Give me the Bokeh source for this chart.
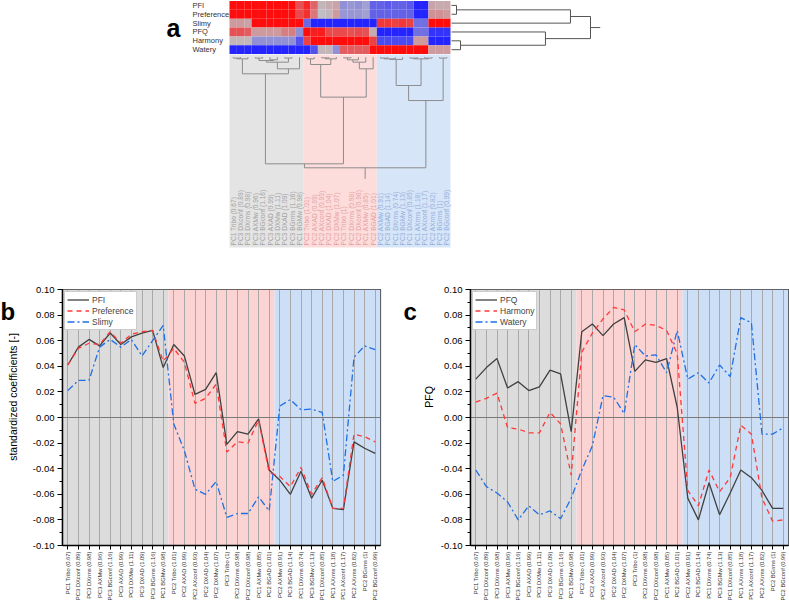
import math
import numpy as np
from bokeh.plotting import figure
from bokeh.models import (Range1d, FixedTicker, SingleIntervalTicker, LinearColorMapper,
                          ColumnDataSource, Span, BoxAnnotation, NumeralTickFormatter)
from bokeh.layouts import column, row
from bokeh.embed import file_html
from bokeh.resources import INLINE
from bokeh.core.properties import value

# ---------------------------------------------------------------- data
features = ["PC1 Tribo (0.67)", "PC3 DXconf (0.89)", "PC3 DXrms (0.98)", "PC3 AXMw (0.96)",
            "PC3 BGconf (1.16)", "PC3 AXAD (0.99)", "PC3 DXMw (1.11)", "PC3 DXAD (1.09)",
            "PC3 BGrms (1.16)", "PC1 BGMw (0.98)", "PC2 Tribo (1.01)", "PC2 AXAD (0.99)",
            "PC2 AXconf (0.93)", "PC2 DXAD (1.04)", "PC2 DXMw (1.07)", "PC3 Tribo (1)",
            "PC2 DXrms (0.98)", "PC2 DXconf (0.98)", "PC1 AXMw (0.85)", "PC2 BGAD (1.01)",
            "PC2 AXMw (0.91)", "PC3 BGAD (1.14)", "PC1 DXrms (0.74)", "PC3 BGMw (1.13)",
            "PC1 DXconf (0.85)", "PC1 AXrms (1.18)", "PC1 AXconf (1.17)", "PC2 AXrms (0.82)",
            "PC2 BGrms (1)", "PC2 BGconf (0.99)"]

pfi = [0.041, 0.055, 0.061, 0.056, 0.066, 0.057, 0.063, 0.066, 0.068, 0.039,
       0.057, 0.048, 0.018, 0.022, 0.035, -0.021, -0.011, -0.013, -0.001, -0.041,
       -0.049, -0.060, -0.042, -0.063, -0.049, -0.071, -0.072, -0.019, -0.024, -0.028]
preference = [0.041, 0.054, 0.058, 0.057, 0.067, 0.058, 0.065, 0.067, 0.068, 0.044,
              0.054, 0.043, 0.011, 0.015, 0.026, -0.027, -0.019, -0.020, -0.002, -0.043,
              -0.046, -0.054, -0.039, -0.060, -0.047, -0.071, -0.071, -0.013, -0.015, -0.019]
slimy = [0.021, 0.029, 0.029, 0.055, 0.061, 0.055, 0.061, 0.048, 0.060, 0.072,
         -0.005, -0.026, -0.056, -0.060, -0.050, -0.078, -0.075, -0.075, -0.062, -0.073,
         0.009, 0.014, 0.006, 0.0065, 0.004, -0.050, -0.045, 0.047, 0.056, 0.053]
pfq = [0.030, 0.039, 0.046, 0.023, 0.028, 0.021, 0.024, 0.037, 0.034, -0.011,
       0.067, 0.073, 0.064, 0.073, 0.078, 0.036, 0.045, 0.043, 0.046, 0.008,
       -0.063, -0.080, -0.051, -0.076, -0.059, -0.041, -0.047, -0.057, -0.071, -0.071]
harmony = [0.012, 0.015, 0.019, -0.008, -0.009, -0.012, -0.012, 0.004, -0.005, -0.045,
           0.051, 0.066, 0.077, 0.086, 0.084, 0.067, 0.073, 0.072, 0.068, 0.050,
           -0.057, -0.069, -0.041, -0.058, -0.047, -0.006, -0.013, -0.063, -0.081, -0.080]
watery = [-0.041, -0.054, -0.059, -0.066, -0.080, -0.069, -0.076, -0.073, -0.079, -0.063,
          -0.041, -0.022, 0.017, 0.016, 0.003, 0.057, 0.048, 0.049, 0.035, 0.068,
          0.030, 0.035, 0.027, 0.041, 0.032, 0.078, 0.074, -0.013, -0.013, -0.008]

# heatmap intensities (-1 blue ... 0 grey ... +1 red), one list per response row
heat_rows = ["PFI", "Preference", "Slimy", "PFQ", "Harmony", "Watery"]
heat_pfi = [1, 1, 1, 1, 1, 1, 1, 1, 1, 0.6, 0.85, 0.5, 0.05, 0.1, 0.15, -0.3, -0.25, -0.3, -0.2, -0.6,
            -0.6, -0.65, -0.6, -0.6, -0.65, -1, -1, 0.15, 0.1, 0.12]
heat_preference = [1, 1, 1, 1, 1, 1, 1, 1, 1, 0.65, 0.8, 0.4, 0.0, 0.05, 0.2, -0.25, -0.25, -0.25, -0.2, -0.6,
                   -0.6, -0.6, -0.6, -0.6, -0.6, -1, -1, 0.25, 0.25, 0.2]
heat_slimy = [0.2, 0.2, 0.15, 1, 1, 1, 1, 1, 1, 1, -0.55, -1, -1, -1, -1, -1, -1, -1, -1, -1,
              0.75, 0.75, 0.7, 0.75, 0.7, -0.5, -0.5, 1, 1, 1]
heat_pfq = [0.6, 0.6, 0.55, 0.2, 0.2, 0.2, 0.2, 0.35, 0.35, -0.3, 1, 0.9, 0.9, 0.65, 0.65, 0.65, 0.6, 0.65,
            0.6, 0.1, -1, -1, -1, -1, -1, -0.5, -0.5, -0.9, -0.9, -0.9]
heat_harmony = [0.05, 0.05, 0.05, -0.3, -0.3, -0.3, -0.3, -0.3, -0.3, -0.7, 0.7, 1, 1, 1, 1, 1, 1, 1, 1, 0.7,
                -0.75, -0.75, -0.75, -0.75, -0.75, 0.2, 0.2, -1, -1, -1]
heat_watery = [-1, -1, -1, -1, -1, -1, -1, -1, -1, -1, -1, -0.7, 0.05, 0.05, -0.3, 0.55, 0.55, 0.55, 0.55, 1,
               1, 1, 1, 1, 1, 1, 1, 0.2, 0.2, 0.2]

cluster_sizes = [10, 10, 10]

# column clustering: (child a, child b, relative height); new ids continue after the leaves
col_linkage = [
    (0, 1, 0.008), (30, 2, 0.015), (3, 4, 0.008), (5, 6, 0.024), (32, 33, 0.03),
    (7, 8, 0.008), (34, 35, 0.045), (36, 9, 0.105), (31, 37, 0.15),
    (10, 11, 0.015), (12, 13, 0.006), (40, 14, 0.015), (39, 41, 0.066),
    (15, 16, 0.006), (43, 17, 0.024), (44, 18, 0.045), (45, 19, 0.105), (42, 46, 0.361),
    (20, 21, 0.008), (48, 22, 0.015), (49, 23, 0.02), (24, 25, 0.008), (26, 27, 0.008),
    (51, 52, 0.015), (50, 53, 0.256), (28, 29, 0.008), (54, 55, 0.392),
    (38, 47, 0.964), (57, 56, 1.0),
]
# row clustering of the six responses
row_linkage = [(0, 1, 0.036), (4, 5, 0.065), (3, 7, 0.676), (6, 2, 0.856), (9, 8, 1.0)]

# ---------------------------------------------------------------- styling constants
FONT = "Liberation Sans"
N = len(features)
BAND_FILL = ["#dcdcdc", "#fbd3d3", "#cddff7"]
BAND_FILL_A = ["#e4e4e4", "#fddcdc", "#d7e5f8"]
LABEL_COL_A = ["#a2a2a2", "#e4a2a2", "#93aed9"]


def ramp(c0, c1, n):
    out = []
    for t in np.linspace(0, 1, n):
        r, g, b = [int(round(a + (bb - a) * t)) for a, bb in zip(c0, c1)]
        out.append("#%02x%02x%02x" % (r, g, b))
    return out


heat_palette = ramp((36, 36, 255), (192, 190, 196), 128) + ramp((192, 190, 196), (255, 12, 12), 128)[1:]


def dendro(linkage, n_leaves):
    pos = {i: i + 0.5 for i in range(n_leaves)}
    hgt = {i: 0.0 for i in range(n_leaves)}
    segs = []
    node = n_leaves - 1
    for k, (a, b, h) in enumerate(linkage):
        node = n_leaves + k
        segs.append((pos[a], hgt[a], pos[a], h))
        segs.append((pos[b], hgt[b], pos[b], h))
        segs.append((pos[a], h, pos[b], h))
        pos[node] = (pos[a] + pos[b]) / 2
        hgt[node] = h
    return segs, pos[node], hgt[node]


def blank(width, height, xr, yr):
    f = figure(width=width, height=height, x_range=xr, y_range=yr, output_backend="svg",
               toolbar_location=None, x_axis_location=None, y_axis_location=None, min_border=0)
    f.grid.visible = False
    f.outline_line_color = None
    return f


# ---------------------------------------------------------------- panel a
TOP_H = 282
HM_LEFT, HM_RIGHT = 229.0, 450.0
HM_TOP, ROW_H = 0.5, 8.85
col_w = (HM_RIGHT - HM_LEFT) / N


def px_x(px):
    return (px - HM_LEFT) / col_w


top = blank(789, TOP_H, Range1d(px_x(0), px_x(789)), Range1d(TOP_H, 0))

# cluster bands behind the column tree
starts = np.cumsum([0] + cluster_sizes[:-1])
top.quad(left=list(starts), right=list(starts + np.array(cluster_sizes)),
         top=[54] * 3, bottom=[247] * 3, fill_color=BAND_FILL_A, line_color=None)

# heatmap
heat = [heat_pfi, heat_preference, heat_slimy, heat_pfq, heat_harmony, heat_watery]
hx, hy, hv = [], [], []
for r, vals in enumerate(heat):
    for j, v in enumerate(vals):
        hx.append(j + 0.5)
        hy.append(HM_TOP + ROW_H * (r + 0.5))
        hv.append(v)
mapper = LinearColorMapper(palette=heat_palette, low=-1, high=1)
top.rect(x="x", y="y", width=1, height=ROW_H, source=ColumnDataSource(dict(x=hx, y=hy, v=hv)),
         fill_color={"field": "v", "transform": mapper}, line_color=None)

# row names
top.text(x=[px_x(192)] * len(heat_rows), y=[HM_TOP + ROW_H * (r + 0.5) for r in range(len(heat_rows))],
         text=heat_rows, text_font=value(FONT), text_font_size="7.5px", text_color="#3a3030",
         text_align="left", text_baseline="middle")

# column dendrogram
LEAF_Y, ROOT_Y = 56.7, 167.3
segs, root_p, root_h = dendro(col_linkage, N)
segs.append((root_p, root_h, root_p, root_h * 1.1))
top.segment(x0=[s[0] for s in segs], y0=[LEAF_Y + s[1] * (ROOT_Y - LEAF_Y) for s in segs],
            x1=[s[2] for s in segs], y1=[LEAF_Y + s[3] * (ROOT_Y - LEAF_Y) for s in segs],
            line_color="#8c8c8c", line_width=1)

# feature names under the tree
grp = np.repeat(np.arange(len(cluster_sizes)), cluster_sizes)
top.text(x=[j + 0.5 for j in range(N)], y=[245] * N, text=features, angle=math.pi / 2,
         text_font=value(FONT), text_font_size="6.6px",
         text_color=[LABEL_COL_A[g] for g in grp], text_align="left", text_baseline="middle")

# row dendrogram, drawn to the right of the heatmap
RD_LEFT, RD_W = 451.0, 139.0
rsegs, rroot_p, rroot_h = dendro(row_linkage, len(heat_rows))
rsegs.append((rroot_p, rroot_h, rroot_p, rroot_h * 1.07))
top.segment(x0=[px_x(RD_LEFT + s[1] * RD_W) for s in rsegs], y0=[HM_TOP + ROW_H * s[0] for s in rsegs],
            x1=[px_x(RD_LEFT + s[3] * RD_W) for s in rsegs], y1=[HM_TOP + ROW_H * s[2] for s in rsegs],
            line_color="#555555", line_width=1)

top.text(x=[px_x(166)], y=[27], text=["a"], text_font=value(FONT), text_font_size="25px",
         text_font_style="bold", text_color="black", text_align="left", text_baseline="alphabetic")

# ---------------------------------------------------------------- panels b and c
PAD_TOP, FRAME_H, PAD_BOTTOM = 7, 256, 56
LOW_H = PAD_TOP + FRAME_H + PAD_BOTTOM


def side_strip(width, letter, letter_x, ylabel, ylabel_x):
    s = blank(width, LOW_H, Range1d(0, width), Range1d(LOW_H, 0))
    s.text(x=[letter_x], y=[PAD_TOP + 21], text=[letter], text_font=value(FONT),
           text_font_size="24px", text_font_style="bold", text_color="black",
           text_align="left", text_baseline="alphabetic")
    s.text(x=[ylabel_x], y=[PAD_TOP + FRAME_H / 2], text=[ylabel], angle=math.pi / 2,
           text_font=value(FONT), text_font_size="10.5px", text_color="black",
           text_align="center", text_baseline="middle")
    return s


def coef_panel(names, data, left_border, right_border):
    p = figure(frame_width=318, frame_height=FRAME_H, x_range=Range1d(0.5, N + 0.5),
               y_range=Range1d(-0.10, 0.10), output_backend="svg", toolbar_location=None,
               min_border_left=left_border, min_border_right=right_border,
               min_border_top=PAD_TOP, min_border_bottom=PAD_BOTTOM)
    p.background_fill_color = "white"
    p.outline_line_color = "#3a3a3a"
    p.outline_line_width = 1.2

    edges = np.cumsum([0] + cluster_sizes)
    for k in range(len(cluster_sizes)):
        p.add_layout(BoxAnnotation(left=edges[k] + 0.5, right=edges[k + 1] + 0.5,
                                   fill_color=BAND_FILL[k], fill_alpha=1.0, line_color=None,
                                   level="image"))

    ticks = list(range(1, N + 1))
    p.xgrid.ticker = FixedTicker(ticks=ticks)
    p.xgrid.grid_line_color = "#a9a9a9"
    p.xgrid.grid_line_width = 1
    p.ygrid.visible = False
    p.add_layout(Span(location=0, dimension="width", line_color="#7a7a7a", line_width=1,
                      level="underlay"))

    styles = [("#404040", "solid"), ("#ff3838", "5 4"), ("#1f6fe5", "7 3 2 3")]
    for name, vals, (col, dash) in zip(names, data, styles):
        p.line(ticks, vals, line_color=col, line_dash=dash, line_width=1.3, legend_label=name)

    xa = p.xaxis[0]
    xa.ticker = FixedTicker(ticks=ticks)
    xa.major_label_overrides = {i + 1: f for i, f in enumerate(features)}
    xa.major_label_orientation = math.pi / 2
    xa.major_label_text_font = FONT
    xa.major_label_text_font_size = "5.8px"
    xa.major_label_text_color = "#303030"
    xa.major_label_standoff = 2
    xa.major_tick_out = 4
    xa.major_tick_in = 0
    xa.minor_tick_out = 0
    xa.axis_line_width = 1.5
    xa.axis_line_color = "black"
    xa.major_tick_line_color = "black"

    ya = p.yaxis[0]
    ya.ticker = SingleIntervalTicker(interval=0.02, num_minor_ticks=2)
    ya.formatter = NumeralTickFormatter(format="0.00")
    ya.major_label_text_font = FONT
    ya.major_label_text_font_size = "9.5px"
    ya.major_label_text_color = "black"
    ya.major_label_standoff = 3
    ya.major_tick_out = 5
    ya.major_tick_in = 0
    ya.minor_tick_out = 3
    ya.minor_tick_in = 0
    ya.axis_line_width = 1.5
    ya.axis_line_color = "black"

    lg = p.legend[0]
    lg.location = "top_left"
    lg.margin = 2
    lg.padding = 2
    lg.spacing = 0
    lg.label_text_font = FONT
    lg.label_text_font_size = "8.5px"
    lg.label_height = 11
    lg.glyph_height = 11
    lg.glyph_width = 22
    lg.label_standoff = 3
    lg.border_line_color = "#9a9a9a"
    lg.border_line_width = 1
    lg.background_fill_alpha = 1.0
    return p


strip_b = side_strip(20, "b", 0, "standardized coefficients [-]", 12)
pb = coef_panel(["PFI", "Preference", "Slimy"], [pfi, preference, slimy], 42, 20)
strip_c = side_strip(36, "c", 3, "PFQ", 28)
pc = coef_panel(["PFQ", "Harmony", "Watery"], [pfq, harmony, watery], 34, 1)

layout = column(top, row(strip_b, pb, strip_c, pc))
open("out.html", "w").write(file_html(layout, INLINE))
